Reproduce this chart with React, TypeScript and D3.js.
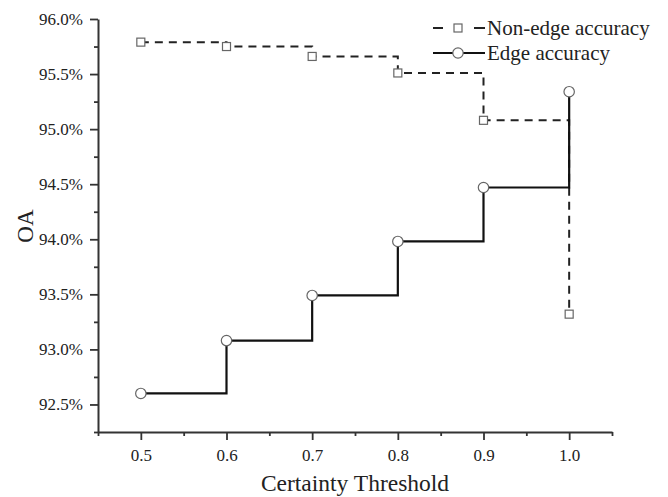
import React, { useEffect, useRef } from 'react';
import * as d3 from 'd3';

const thresholds = [0.5, 0.6, 0.7, 0.8, 0.9, 1.0];
const nonEdgeAcc = [95.79, 95.75, 95.66, 95.51, 95.08, 93.32];
const edgeAcc = [92.6, 93.08, 93.49, 93.98, 94.47, 95.34];
const yTicks = [92.5, 93.0, 93.5, 94.0, 94.5, 95.0, 95.5, 96.0];
const xTicks = [0.5, 0.6, 0.7, 0.8, 0.9, 1.0];

const App = () => {
  const ref = useRef<SVGSVGElement>(null);

  useEffect(() => {
    const svg = d3.select(ref.current);
    svg.selectAll('*').remove();

    const width = 668;
    const height = 497;
    const margin = { top: 19, right: 56, bottom: 65, left: 98 };
    const font = 'Liberation Serif, Times New Roman, Times, serif';

    const x = d3.scaleLinear().domain([0.45, 1.05]).range([margin.left, width - margin.right]);
    const y = d3.scaleLinear().domain([92.25, 96.0]).range([height - margin.bottom, margin.top]);

    // minor ticks
    const xMinor = d3.range(0.45, 1.06, 0.05).filter(v => !xTicks.some(t => Math.abs(t - v) < 1e-6));
    const yMinor = d3.range(92.25, 96.01, 0.25).filter(v => !yTicks.some(t => Math.abs(t - v) < 1e-6));

    const gx = svg.append('g').attr('transform', `translate(0,${height - margin.bottom})`);
    gx.call(d3.axisBottom(x).tickValues(xMinor).tickSize(4).tickFormat(() => ''));
    gx.call(g => g.select('.domain').remove());
    const gx2 = svg.append('g').attr('transform', `translate(0,${height - margin.bottom})`)
      .call(d3.axisBottom(x).tickValues(xTicks).tickSize(8).tickSizeOuter(0).tickPadding(9).tickFormat(d3.format('.1f')));

    const gy = svg.append('g').attr('transform', `translate(${margin.left},0)`);
    gy.call(d3.axisLeft(y).tickValues(yMinor).tickSize(4).tickFormat(() => ''));
    gy.call(g => g.select('.domain').remove());
    const gy2 = svg.append('g').attr('transform', `translate(${margin.left},0)`)
      .call(d3.axisLeft(y).tickValues(yTicks).tickSize(8).tickSizeOuter(0).tickPadding(7).tickFormat(d => d3.format('.1f')(d as number) + '%'));

    [gx, gx2, gy, gy2].forEach(g => {
      g.attr('font-family', font).attr('font-size', 17);
      g.selectAll('line').attr('stroke', '#333').attr('stroke-width', 1.8);
      g.selectAll('.domain').attr('stroke', '#333').attr('stroke-width', 2);
      g.selectAll('text').attr('fill', '#222');
    });

    svg.append('text')
      .attr('x', x(0.75)).attr('y', 491)
      .attr('text-anchor', 'middle')
      .attr('font-family', font).attr('font-size', 23.5).attr('fill', '#222')
      .text('Certainty Threshold');

    svg.append('text')
      .attr('transform', `translate(33,${y(94.12)}) rotate(-90)`)
      .attr('text-anchor', 'middle')
      .attr('font-family', font).attr('font-size', 23).attr('fill', '#222')
      .text('OA');

    const line = d3.line<number>()
      .x((_, i) => x(thresholds[i]))
      .y(d => y(d))
      .curve(d3.curveStepAfter);

    svg.append('path').datum(nonEdgeAcc).attr('d', line)
      .attr('fill', 'none').attr('stroke', '#222').attr('stroke-width', 2)
      .attr('stroke-dasharray', '8,6');
    svg.append('path').datum(edgeAcc).attr('d', line)
      .attr('fill', 'none').attr('stroke', '#111').attr('stroke-width', 2.2);

    svg.selectAll('.sq').data(nonEdgeAcc).enter().append('rect')
      .attr('x', (_, i) => x(thresholds[i]) - 4).attr('y', d => y(d) - 4)
      .attr('width', 8).attr('height', 8)
      .attr('fill', 'white').attr('stroke', '#666').attr('stroke-width', 1.2);
    svg.selectAll('.ci').data(edgeAcc).enter().append('circle')
      .attr('cx', (_, i) => x(thresholds[i])).attr('cy', d => y(d))
      .attr('r', 5.2)
      .attr('fill', 'white').attr('stroke', '#666').attr('stroke-width', 1.2);

    // legend
    const lg = svg.append('g').attr('font-family', font).attr('font-size', 21);
    lg.append('line').attr('x1', 433).attr('x2', 443).attr('y1', 28).attr('y2', 28)
      .attr('stroke', '#222').attr('stroke-width', 2);
    lg.append('line').attr('x1', 474).attr('x2', 485).attr('y1', 28).attr('y2', 28)
      .attr('stroke', '#222').attr('stroke-width', 2);
    lg.append('rect').attr('x', 454).attr('y', 24).attr('width', 8).attr('height', 8)
      .attr('fill', 'white').attr('stroke', '#666').attr('stroke-width', 1.2);
    lg.append('text').attr('x', 487).attr('y', 35).attr('fill', '#222')
      .text('Non-edge accuracy');
    lg.append('line').attr('x1', 433).attr('x2', 485).attr('y1', 53).attr('y2', 53)
      .attr('stroke', '#111').attr('stroke-width', 2.2);
    lg.append('circle').attr('cx', 458).attr('cy', 53).attr('r', 5.2)
      .attr('fill', 'white').attr('stroke', '#666').attr('stroke-width', 1.2);
    lg.append('text').attr('x', 487).attr('y', 60).attr('fill', '#222')
      .text('Edge accuracy');
  }, []);

  return <svg ref={ref} width={668} height={497} style={{ position: 'absolute', left: 0, top: 0, background: 'white' }} />;
};

export default App;
